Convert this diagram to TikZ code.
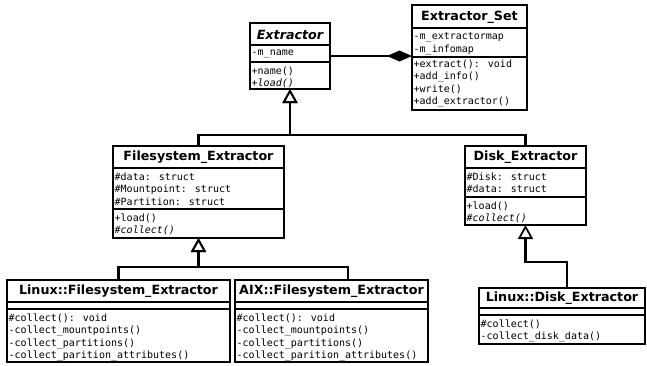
\documentclass[tikz,border=0pt]{standalone}
\usepackage{fontspec}
\setmainfont{DejaVu Sans}
\newfontfamily\monof{DejaVu Sans Mono}
\usetikzlibrary{arrows.meta,calc}
\newcommand\classbox[7]{%
  \node[box, minimum width={#4-#2}, minimum height={#5-#3}] (#1) at (#2,#3) {};
  \draw[boxline] (#2,#6) -- (#4,#6);
  \draw[boxline] (#2,#7) -- (#4,#7);
}
\begin{document}
\begin{tikzpicture}[x=1pt,y=-1pt,
  box/.style={draw, line width=1.8pt, inner sep=0pt, outer sep=0pt, anchor=north west},
  boxline/.style={line width=1.8pt},
  ttl/.style={font=\bfseries\fontsize{12.7}{14}\selectfont, inner sep=0pt},
  txt/.style={font=\monof\fontsize{10}{12.5}\selectfont, align=left, anchor=north west, inner sep=1.5pt, yshift=-3pt},
  gen/.style={line width=2.2pt, -{Triangle[open,length=14pt,width=15pt,line width=1.8pt]}},
  agg/.style={line width=2.2pt, -{Diamond[length=25pt,width=11pt]}}]
\useasboundingbox (0,0) rectangle (647,365);

% Extractor
\classbox{ext}{250}{23}{330}{89}{45}{62}
\node[ttl] (extT) at (290,34.5) {\itshape Extractor};
\node[txt] (extA) at (250,45) {-m\_name};
\node[txt] (extM) at (250,62) {+name()\\\itshape +load()};

% Extractor_Set
\classbox{set}{412}{5}{527}{110}{28}{57}
\node[ttl] (setT) at (469.5,17) {Extractor\_Set};
\node[txt] (setA) at (412,28) {-m\_extractormap\\-m\_infomap};
\node[txt, yshift=2pt] (setM) at (412,57) {+extract(): void\\+add\_info()\\+write()\\+add\_extractor()};

% Filesystem_Extractor
\classbox{fs}{113}{146}{284}{238}{168}{209}
\node[ttl] (fsT) at (198.5,157.5) {Filesystem\_Extractor};
\node[txt] (fsA) at (113,168) {\#data: struct\\\#Mountpoint: struct\\\#Partition: struct};
\node[txt] (fsM) at (113,209) {+load()\\\itshape \#collect()};

% Disk_Extractor
\classbox{disk}{465}{146}{586}{225}{168}{197}
\node[ttl] (diskT) at (525.5,157.5) {Disk\_Extractor};
\node[txt] (diskA) at (465,168) {\#Disk: struct\\\#data: struct};
\node[txt] (diskM) at (465,197) {+load()\\\itshape \#collect()};

% Linux::Filesystem_Extractor
\classbox{lfs}{7}{280}{230}{362}{302}{309}
\node[ttl] (lfsT) at (118.5,291) {Linux::Filesystem\_Extractor};
\node[txt] (lfsM) at (7,309) {\#collect(): void\\-collect\_mountpoints()\\-collect\_partitions()\\-collect\_parition\_attributes()};

% AIX::Filesystem_Extractor
\classbox{aix}{235}{280}{428}{362}{302}{309}
\node[ttl] (aixT) at (331.5,291) {AIX::Filesystem\_Extractor};
\node[txt] (aixM) at (235,309) {\#collect(): void\\-collect\_mountpoints()\\-collect\_partitions()\\-collect\_parition\_attributes()};

% Linux::Disk_Extractor
\classbox{ldisk}{479}{288}{645}{344}{308}{315}
\node[ttl] (ldiskT) at (562,298.5) {Linux::Disk\_Extractor};
\node[txt] (ldiskM) at (479,315) {\#collect()\\-collect\_disk\_data()};

% connectors
\draw[agg] (ext.east) -- (ext.east -| set.west);
\draw[gen] (fs.north) -- ++(0,-11) -| (ext.south);
\draw[gen] (disk.north) -- ++(0,-11) -| (ext.south);
\draw[gen] (lfs.north) -- ++(0,-13) -| (fs.south);
\draw[gen] ([xshift=113pt]aix.north west) -- ++(0,-13) -| (fs.south);
\draw[gen] ([xshift=5pt]ldisk.north) -- ++(0,-26) -| (disk.south);
\end{tikzpicture}
\end{document}
